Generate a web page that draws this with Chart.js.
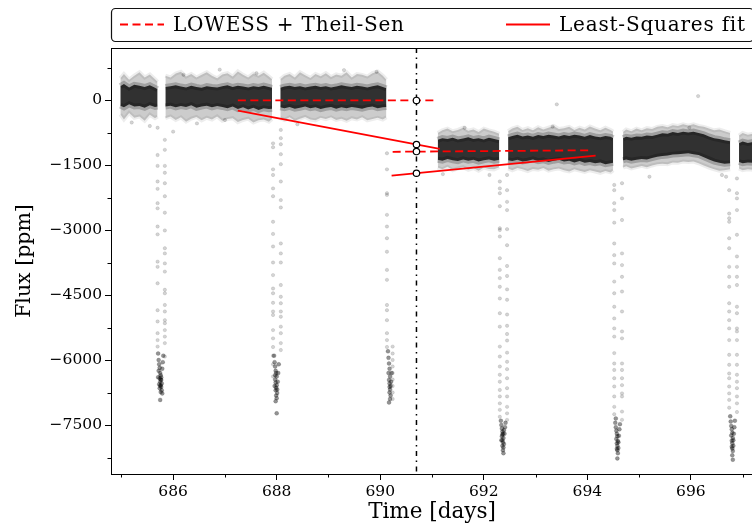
<!DOCTYPE html>
<html>
<head>
<meta charset="utf-8">
<script src="https://cdn.jsdelivr.net/npm/chart.js@4.4.1/dist/chart.umd.min.js"></script>
<style>
html, body { margin: 0; padding: 0; background: #fff; overflow: hidden; }
#wrap { width: 760px; height: 526px; }
</style>
</head>
<body>
<div id="wrap"><canvas id="lc" width="760" height="526"></canvas></div>
<script>
// Оси
const xTicks = [686, 688, 690, 692, 694, 696];
const xMinor = [685, 687, 689, 691, 693, 695, 697];
const yTicks = [0, -1500, -3000, -4500, -6000, -7500];
const yMinor = [750, -750, -2250, -3750, -5250, -6750, -8250];

// Облако точек вне затмений: время, верх/низ облака, верх/низ плотного ядра
const segA_t   = [684.98, 685.05, 685.15, 685.25, 685.35, 685.45, 685.55, 685.65, 685.70];
const segA_hi  = [500, 600, 470, 560, 640, 520, 590, 480, 420];
const segA_top = [320, 370, 290, 350, 330, 300, 340, 280, 250];
const segA_bot = [-130, -170, -100, -150, -140, -180, -120, -160, -150];
const segA_lo  = [-330, -450, -300, -410, -380, -480, -340, -420, -380];

const segB_t   = [685.85, 685.95, 686.05, 686.15, 686.25, 686.35, 686.45, 686.55, 686.65, 686.75, 686.85, 686.95, 687.05, 687.15, 687.25, 687.35, 687.45, 687.55, 687.65, 687.75, 687.85, 687.91];
const segB_hi  = [560, 520, 610, 650, 540, 600, 520, 580, 640, 560, 500, 590, 620, 540, 660, 580, 520, 610, 560, 630, 540, 480];
const segB_top = [300, 320, 340, 310, 290, 330, 300, 280, 320, 300, 290, 320, 340, 300, 330, 310, 290, 320, 300, 330, 300, 280];
const segB_bot = [-150, -130, -170, -140, -160, -120, -180, -150, -130, -170, -140, -160, -190, -150, -210, -170, -220, -180, -230, -190, -210, -200];
const segB_lo  = [-420, -380, -460, -400, -500, -430, -390, -470, -410, -450, -380, -480, -440, -420, -510, -460, -430, -520, -470, -450, -500, -440];

const segC_t   = [688.07, 688.15, 688.25, 688.35, 688.45, 688.55, 688.65, 688.75, 688.85, 688.95, 689.05, 689.15, 689.25, 689.35, 689.45, 689.55, 689.65, 689.75, 689.85, 689.95, 690.05, 690.12];
const segC_hi  = [480, 560, 600, 520, 640, 570, 510, 600, 550, 620, 530, 590, 560, 640, 520, 600, 580, 540, 620, 660, 560, 470];
const segC_top = [280, 310, 330, 300, 320, 290, 310, 330, 300, 320, 290, 310, 340, 320, 300, 330, 310, 290, 320, 340, 300, 270];
const segC_bot = [-170, -190, -160, -200, -180, -150, -190, -170, -210, -180, -160, -200, -170, -190, -160, -180, -200, -170, -150, -190, -170, -160];
const segC_lo  = [-420, -460, -400, -480, -430, -390, -450, -470, -410, -440, -400, -460, -430, -480, -420, -450, -400, -470, -440, -410, -450, -400];

const segD_t   = [691.11, 691.2, 691.3, 691.4, 691.5, 691.6, 691.7, 691.8, 691.9, 692.0, 692.1, 692.2, 692.30];
const segD_hi  = [-760, -700, -660, -720, -690, -640, -710, -680, -740, -660, -700, -730, -780];
const segD_top = [-920, -880, -900, -870, -910, -890, -860, -900, -880, -910, -870, -900, -930];
const segD_bot = [-1380, -1400, -1360, -1390, -1410, -1370, -1400, -1380, -1420, -1390, -1370, -1400, -1380];
const segD_lo  = [-1560, -1600, -1540, -1620, -1580, -1550, -1610, -1570, -1630, -1560, -1590, -1600, -1550];

const segE_t   = [692.47, 692.55, 692.65, 692.75, 692.85, 692.95, 693.05, 693.15, 693.25, 693.35, 693.45, 693.55, 693.65, 693.75, 693.85, 693.95, 694.05, 694.15, 694.25, 694.35, 694.45, 694.50];
const segE_hi  = [-720, -660, -620, -690, -650, -700, -630, -680, -640, -600, -670, -650, -620, -690, -640, -680, -610, -660, -700, -640, -690, -730];
const segE_top = [-860, -830, -800, -840, -820, -850, -810, -830, -800, -820, -840, -810, -830, -800, -820, -850, -810, -840, -860, -830, -850, -880];
const segE_bot = [-1390, -1410, -1380, -1420, -1400, -1370, -1410, -1390, -1430, -1400, -1380, -1420, -1400, -1440, -1410, -1450, -1430, -1460, -1440, -1480, -1460, -1450];
const segE_lo  = [-1580, -1620, -1570, -1600, -1640, -1590, -1610, -1570, -1630, -1600, -1580, -1620, -1650, -1600, -1630, -1660, -1620, -1650, -1680, -1640, -1670, -1620];

const segF_t   = [694.69, 694.75, 694.85, 694.95, 695.05, 695.15, 695.25, 695.35, 695.45, 695.55, 695.65, 695.75, 695.85, 695.95, 696.05, 696.15, 696.25, 696.35, 696.45, 696.55, 696.65, 696.76];
const segF_hi  = [-740, -680, -720, -660, -700, -650, -670, -620, -600, -630, -580, -600, -560, -590, -560, -600, -620, -660, -700, -680, -720, -760];
const segF_top = [-880, -850, -870, -840, -850, -820, -830, -800, -770, -780, -740, -760, -730, -750, -730, -760, -790, -840, -880, -900, -930, -950];
const segF_bot = [-1390, -1370, -1400, -1380, -1360, -1370, -1340, -1310, -1290, -1280, -1260, -1250, -1240, -1230, -1250, -1270, -1320, -1370, -1420, -1450, -1470, -1460];
const segF_lo  = [-1560, -1530, -1580, -1550, -1520, -1550, -1510, -1480, -1470, -1480, -1440, -1450, -1420, -1430, -1420, -1460, -1510, -1560, -1600, -1630, -1620, -1600];

const segG_t   = [696.93, 697.0, 697.1, 697.2];
const segG_hi  = [-820, -760, -800, -780];
const segG_top = [-1000, -960, -990, -970];
const segG_bot = [-1430, -1460, -1440, -1450];
const segG_lo  = [-1580, -1620, -1600, -1610];

// Затмения: вход, выход, дно
const dipInT  = [685.70, 687.93, 690.13, 692.31, 694.52, 696.74];
const dipOutT = [685.84, 688.08, 690.24, 692.45, 694.67, 696.89];
const dip1In  = [-640, -1270, -1520, -1880, -2050, -2380, -2500, -2920, -3100, -3730, -3850, -4230, -4850, -5110, -5380, -5540, -5690];
const dip1Out = [-920, -1150, -1520, -1680, -1920, -2220, -2600, -3010, -3420, -3540, -3770, -3960, -4380, -4460, -4730, -4880, -5080, -5150, -5310, -5460, -5610, -5920];
const dip1Floor = [[685.71,-5850],[685.72,-6000],[685.73,-6100],[685.74,-6180],[685.72,-6250],[685.75,-6300],[685.76,-6350],[685.74,-6420],[685.77,-6460],[685.75,-6500],[685.78,-6540],[685.76,-6580],[685.77,-6620],[685.74,-6650],[685.78,-6700],[685.76,-6740],[685.79,-6770],[685.75,-6920],[685.73,-6560],[685.77,-6400],[685.79,-6200],[685.80,-6050],[685.81,-5900],[685.71,-6400],[685.75,-6600],[685.76,-6450]];
const dip2In  = [-1000, -1090, -1600, -1730, -2040, -2220, -2810, -3090, -3380, -3750, -4040, -4350, -4460, -4680, -4880, -4960, -5310, -5500, -5700, -5900, -6100, -6380];
const dip2Out = [-690, -880, -1020, -1250, -1480, -1880, -2310, -2480, -3310, -3540, -3750, -4270, -4540, -4690, -4880, -5000, -5230, -5380, -5610, -5770];
const dip2Floor = [[687.95,-5900],[687.96,-6050],[687.97,-6150],[687.98,-6250],[687.99,-6300],[688.00,-6380],[687.97,-6450],[687.98,-6520],[688.00,-6580],[687.99,-6640],[687.98,-6700],[688.01,-6760],[687.99,-6820],[688.00,-6880],[688.02,-6500],[688.03,-6300],[688.04,-6100],[687.96,-6600],[688.00,-7230],[687.98,-6950],[688.01,-6680],[687.97,-6350]];
const dip3In  = [-1230, -1600, -2150, -2190, -2650, -2920, -3190, -3500, -3920, -4150, -4730, -4850, -5080, -5380, -5540, -5700];
const dip3Out = [-5690, -5850, -6000, -6150, -6300, -6450, -6600, -6750, -6900];
const dip3Floor = [[690.15,-5800],[690.16,-5950],[690.17,-6080],[690.18,-6200],[690.16,-6300],[690.19,-6380],[690.17,-6460],[690.18,-6540],[690.20,-6600],[690.19,-6680],[690.18,-6750],[690.20,-6820],[690.19,-6900],[690.17,-6980],[690.21,-6500],[690.22,-6300],[690.18,-6620]];
const dip4In  = [-1880, -2040, -2150, -2450, -2960, -3000, -3150, -3650, -3920, -4110, -4310, -4580, -4920, -5230, -5690, -5920, -6150, -6340, -6500, -6690, -6840, -7000, -7150, -7310];
const dip4Out = [-1730, -2080, -2350, -2540, -2980, -3350, -3830, -4060, -4370, -4610, -4950, -5210, -5400, -5550, -5830, -6040, -6210, -6420, -6650, -6840, -7080, -7230, -7380];
const dip4Floor = [[692.33,-7400],[692.34,-7500],[692.35,-7580],[692.36,-7650],[692.37,-7700],[692.35,-7760],[692.38,-7800],[692.36,-7850],[692.37,-7900],[692.39,-7940],[692.36,-7980],[692.38,-8020],[692.37,-8080],[692.38,-8150],[692.40,-7700],[692.41,-7550],[692.42,-7450],[692.34,-7850],[692.39,-7620],[692.36,-7720]];
const dip5In  = [-1960, -2080, -2380, -2540, -2830, -3310, -3580, -3770, -4190, -4460, -4770, -5040, -5270, -5460, -5840, -6080, -6230, -6420, -6610, -6840, -7080, -7250];
const dip5Out = [-1920, -2270, -2770, -3540, -3810, -4080, -4420, -4880, -5340, -5500, -6080, -6230, -6420, -6580, -6770, -6840, -7190, -7380];
const dip5Floor = [[694.54,-7450],[694.55,-7550],[694.56,-7630],[694.57,-7700],[694.58,-7760],[694.56,-7820],[694.59,-7870],[694.57,-7920],[694.58,-7980],[694.60,-8030],[694.58,-8080],[694.59,-8150],[694.58,-8270],[694.61,-7750],[694.62,-7600],[694.63,-7480],[694.57,-8050],[694.60,-7900],[694.55,-7350]];
const dip6In  = [-2080, -2620, -2730, -2810, -3190, -3420, -3850, -4080, -4310, -4690, -4880, -5080, -5270, -5540, -5880, -6110, -6310, -6420, -6610, -6770, -6920, -7100];
const dip6Out = [-1810, -2150, -2270, -2540, -3110, -3610, -3850, -4080, -4270, -4770, -4920, -5270, -5340, -5540, -5880, -6110, -6340, -6500, -6650, -6840, -7000, -7200];
const dip6Floor = [[696.76,-7300],[696.77,-7420],[696.78,-7520],[696.79,-7600],[696.80,-7680],[696.78,-7740],[696.81,-7800],[696.79,-7860],[696.80,-7920],[696.82,-7980],[696.80,-8040],[696.81,-8100],[696.80,-8200],[696.81,-8300],[696.83,-7700],[696.84,-7550],[696.85,-7400],[696.79,-8000],[696.82,-7850]];

// Одиночные выбросы
const strayT = [685.20, 685.55, 686.00, 686.20, 686.46, 686.90, 687.00, 687.61, 688.40, 689.93, 689.30, 691.21, 691.63, 692.11, 693.33, 693.41, 695.20, 695.97, 696.14, 696.60, 696.68];
const strayF = [-520, -600, -730, 580, -540, 700, -460, 620, -560, 650, 690, -1710, -640, -1730, -615, -100, -1770, -640, 90, -1730, -1770];

// Аппроксимации
const lowessA_t = [687.25, 691.09];
const lowessA_f = [-10, -10];
const lowessB_t = [690.24, 694.08];
const lowessB_f = [-1195, -1160];
const lsqA_t = [687.25, 691.15];
const lsqA_f = [-247, -1130];
const lsqB_t = [690.22, 694.16];
const lsqB_f = [-1746, -1285];

// Момент оценки
const tMid = 690.7;
const midF = [-10, -1027, -1190, -1690];

const xMin = 684.8, xMax = 697.2;
const yMin = -8630, yMax = 1200;

function pts(ts, fs) {
    return ts.map((t, i) => ({ x: t, y: fs[i] }));
}

const datasets = [];

// Кружки и вертикальная линия
datasets.push({
    data: midF.map(f => ({ x: tMid, y: f })),
    showLine: false, pointRadius: 3.2, pointBackgroundColor: '#fff',
    pointBorderColor: '#000', pointBorderWidth: 1.2, order: -2
});
datasets.push({
    data: [{ x: tMid, y: yMax }, { x: tMid, y: yMin }],
    borderColor: '#000', borderWidth: 1.5, borderDash: [5, 4.5, 1.5, 4.5],
    pointRadius: 0, order: -1
});

// Красные линии
[[lowessA_t, lowessA_f], [lowessB_t, lowessB_f]].forEach(p => {
    datasets.push({ data: pts(p[0], p[1]), borderColor: '#ff0000', borderWidth: 1.8,
        borderDash: [8, 4.5], pointRadius: 0, order: 0 });
});
[[lsqA_t, lsqA_f], [lsqB_t, lsqB_f]].forEach(p => {
    datasets.push({ data: pts(p[0], p[1]), borderColor: '#ff0000', borderWidth: 1.8,
        pointRadius: 0, order: 0 });
});

// Точки затмений
const dips = [
    [dip1In, dip1Out, dip1Floor], [dip2In, dip2Out, dip2Floor], [dip3In, dip3Out, dip3Floor],
    [dip4In, dip4Out, dip4Floor], [dip5In, dip5Out, dip5Floor], [dip6In, dip6Out, dip6Floor]
];
const sidePts = [];
const floorPts = [];
dips.forEach((d, k) => {
    d[0].forEach(f => sidePts.push({ x: dipInT[k], y: f }));
    d[1].forEach(f => sidePts.push({ x: dipOutT[k], y: f }));
    d[2].forEach(p => floorPts.push({ x: p[0], y: p[1] }));
});
strayT.forEach((t, i) => sidePts.push({ x: t, y: strayF[i] }));
datasets.push({
    data: sidePts, showLine: false, pointRadius: 1.7,
    pointBackgroundColor: 'rgba(0,0,0,0.17)', pointBorderColor: 'rgba(0,0,0,0.2)',
    pointBorderWidth: 0.5, order: 1
});
// дно затмений: точки ложатся плотно друг на друга
datasets.push({
    data: floorPts, showLine: false, pointRadius: 2,
    pointBackgroundColor: 'rgba(0,0,0,0.42)', pointBorderColor: 'rgba(0,0,0,0.3)',
    pointBorderWidth: 0.5, order: 1
});

// Полосы шума: светлая внешняя и тёмное ядро, края размыты широкой полупрозрачной линией
const segs = [
    [segA_t, segA_hi, segA_top, segA_bot, segA_lo],
    [segB_t, segB_hi, segB_top, segB_bot, segB_lo],
    [segC_t, segC_hi, segC_top, segC_bot, segC_lo],
    [segD_t, segD_hi, segD_top, segD_bot, segD_lo],
    [segE_t, segE_hi, segE_top, segE_bot, segE_lo],
    [segF_t, segF_hi, segF_top, segF_bot, segF_lo],
    [segG_t, segG_hi, segG_top, segG_bot, segG_lo]
];
segs.forEach(s => {
    datasets.push({ data: pts(s[0], s[1]), borderWidth: 4, borderColor: 'rgba(0,0,0,0.07)',
        pointRadius: 0, order: 3, fill: false });
    datasets.push({ data: pts(s[0], s[4]), borderWidth: 4, borderColor: 'rgba(0,0,0,0.07)',
        pointRadius: 0, order: 3, fill: '-1', backgroundColor: 'rgba(0,0,0,0.2)' });
    datasets.push({ data: pts(s[0], s[2]), borderWidth: 6, borderColor: 'rgba(0,0,0,0.22)',
        pointRadius: 0, order: 2, fill: false });
    datasets.push({ data: pts(s[0], s[3]), borderWidth: 6, borderColor: 'rgba(0,0,0,0.22)',
        pointRadius: 0, order: 2, fill: '-1', backgroundColor: 'rgba(0,0,0,0.76)' });
});

const serif = 'DejaVu Serif';
const fmt = v => String(v).replace('-', '\u2212');

// Рамка, малые риски и легенда
const decor = {
    id: 'decor',
    afterDraw(chart) {
        const ctx = chart.ctx, a = chart.chartArea;
        const xs = chart.scales.x, ys = chart.scales.y;
        ctx.save();
        ctx.strokeStyle = '#000';
        ctx.lineWidth = 1;
        ctx.strokeRect(a.left + 0.5, a.top + 0.5, a.right - a.left, a.bottom - a.top);
        ctx.beginPath();
        xMinor.forEach(v => {
            const px = Math.round(xs.getPixelForValue(v)) + 0.5;
            ctx.moveTo(px, a.bottom); ctx.lineTo(px, a.bottom + 3.5);
        });
        yMinor.forEach(v => {
            const py = Math.round(ys.getPixelForValue(v)) + 0.5;
            ctx.moveTo(a.left, py); ctx.lineTo(a.left - 3.5, py);
        });
        ctx.stroke();

        // легенда
        ctx.beginPath();
        ctx.roundRect(a.left + 0.5, 8.5, a.right - a.left, 33, 4);
        ctx.fillStyle = '#fff';
        ctx.fill();
        ctx.strokeStyle = '#111';
        ctx.lineWidth = 1.2;
        ctx.stroke();

        ctx.strokeStyle = '#ff0000';
        ctx.lineWidth = 1.8;
        ctx.setLineDash([8, 4.5]);
        ctx.beginPath(); ctx.moveTo(120, 24.5); ctx.lineTo(164, 24.5); ctx.stroke();
        ctx.setLineDash([]);
        ctx.beginPath(); ctx.moveTo(506, 24.5); ctx.lineTo(550, 24.5); ctx.stroke();

        ctx.fillStyle = '#000';
        ctx.font = '20px "' + serif + '"';
        ctx.letterSpacing = '0.8px';
        ctx.textBaseline = 'alphabetic';
        ctx.fillText('LOWESS + Theil-Sen', 173, 31);
        ctx.fillText('Least-Squares fit', 559, 31);
        ctx.restore();
    }
};

new Chart(document.getElementById('lc'), {
    type: 'line',
    data: { datasets: datasets },
    options: {
        responsive: false,
        animation: false,
        events: [],
        layout: { padding: { top: 48, right: 7, left: 0, bottom: 0 } },
        plugins: { legend: { display: false }, tooltip: { enabled: false } },
        scales: {
            x: {
                type: 'linear', min: xMin, max: xMax,
                afterFit: s => { s.height = 52; },
                afterBuildTicks: s => { s.ticks = xTicks.map(v => ({ value: v })); },
                grid: { drawOnChartArea: false, tickLength: 6, tickColor: '#000', tickWidth: 1 },
                border: { color: '#000', width: 1 },
                ticks: { color: '#000', font: { family: serif, size: 15.5 }, padding: 3,
                    maxRotation: 0, autoSkip: false, callback: v => fmt(v) },
                title: { display: true, text: 'Time [days]', color: '#000',
                    font: { family: serif, size: 21.5 }, padding: { top: 0, bottom: 1 } }
            },
            y: {
                type: 'linear', min: yMin, max: yMax,
                afterFit: s => { s.width = 111; },
                afterBuildTicks: s => { s.ticks = yTicks.map(v => ({ value: v })); },
                grid: { drawOnChartArea: false, tickLength: 6, tickColor: '#000', tickWidth: 1 },
                border: { color: '#000', width: 1 },
                ticks: { color: '#000', font: { family: serif, size: 15.5 }, padding: 3,
                    callback: v => fmt(v) },
                title: { display: true, text: 'Flux [ppm]', color: '#000',
                    font: { family: serif, size: 20.5 }, padding: { top: 12, bottom: 0 } }
            }
        }
    },
    plugins: [decor]
});
</script>
</body>
</html>
